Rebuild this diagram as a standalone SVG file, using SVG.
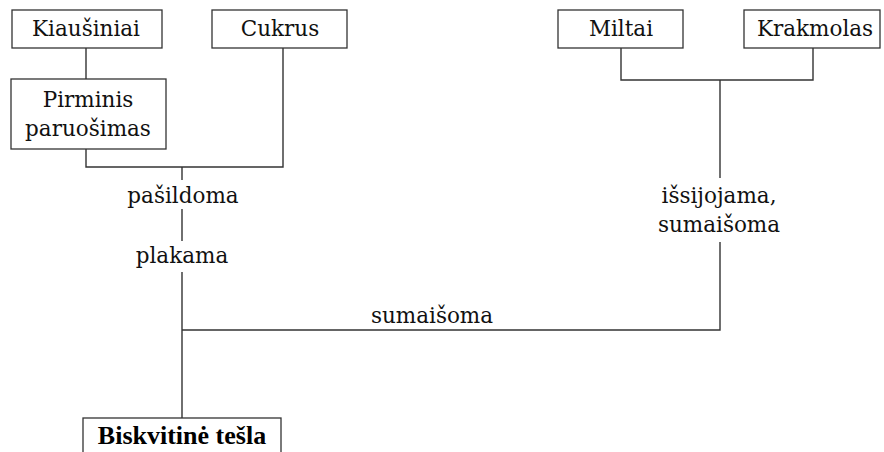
<svg xmlns="http://www.w3.org/2000/svg" width="884" height="452" viewBox="0 0 884 452">
  <style>
    .box { fill: #ffffff; stroke: #333333; stroke-width: 1.3; }
    .lbl { font-family: "DejaVu Serif", "Liberation Serif", serif; font-size: 21.5px; fill: #111111; text-anchor: middle; }
    .bold { font-family: "Liberation Serif", "Times New Roman", serif; font-size: 26px; font-weight: bold; fill: #000000; text-anchor: middle; }
    .wire { fill: none; stroke: #333333; stroke-width: 1.4; }
  </style>
  <rect width="884" height="452" fill="#ffffff"/>

  <!-- connectors -->
  <g id="connectors">
    <path class="wire" d="M86 48 V79"/>
    <path class="wire" d="M86 149 V167 H283 V48"/>
    <path class="wire" d="M182 167 V180"/>
    <path class="wire" d="M182 209 V241"/>
    <path class="wire" d="M182 272 V418"/>
    <path class="wire" d="M621 48 V80 H813 V48"/>
    <path class="wire" d="M720 80 V178"/>
    <path class="wire" d="M720 242 V330 H182"/>
  </g>

  <!-- ingredients -->
  <g id="kiausiniai">
    <rect class="box" x="12" y="10" width="150" height="38"/>
    <text class="lbl" x="86" y="36">Kiaušiniai</text>
  </g>
  <g id="cukrus">
    <rect class="box" x="212" y="10" width="135" height="38"/>
    <text class="lbl" x="280" y="36">Cukrus</text>
  </g>
  <g id="pirminis">
    <rect class="box" x="11" y="79" width="155" height="70"/>
    <text class="lbl" x="88" y="107">Pirminis</text>
    <text class="lbl" x="88" y="136">paruošimas</text>
  </g>
  <g id="miltai">
    <rect class="box" x="558" y="10" width="125" height="38"/>
    <text class="lbl" x="621" y="36">Miltai</text>
  </g>
  <g id="krakmolas">
    <rect class="box" x="744" y="10" width="136" height="38"/>
    <text class="lbl" x="815" y="36">Krakmolas</text>
  </g>

  <!-- process steps -->
  <g id="pasildoma">
    <text class="lbl" x="183" y="203">pašildoma</text>
  </g>
  <g id="plakama">
    <text class="lbl" x="182" y="263">plakama</text>
  </g>
  <g id="issijojama">
    <text class="lbl" x="719" y="203">išsijojama,</text>
    <text class="lbl" x="719" y="232">sumaišoma</text>
  </g>
  <g id="sumaisoma">
    <text class="lbl" x="432" y="323">sumaišoma</text>
  </g>

  <!-- result -->
  <g id="biskvitine">
    <rect class="box" x="83" y="418" width="198" height="40"/>
    <text class="bold" x="182" y="444">Biskvitinė tešla</text>
  </g>
</svg>
